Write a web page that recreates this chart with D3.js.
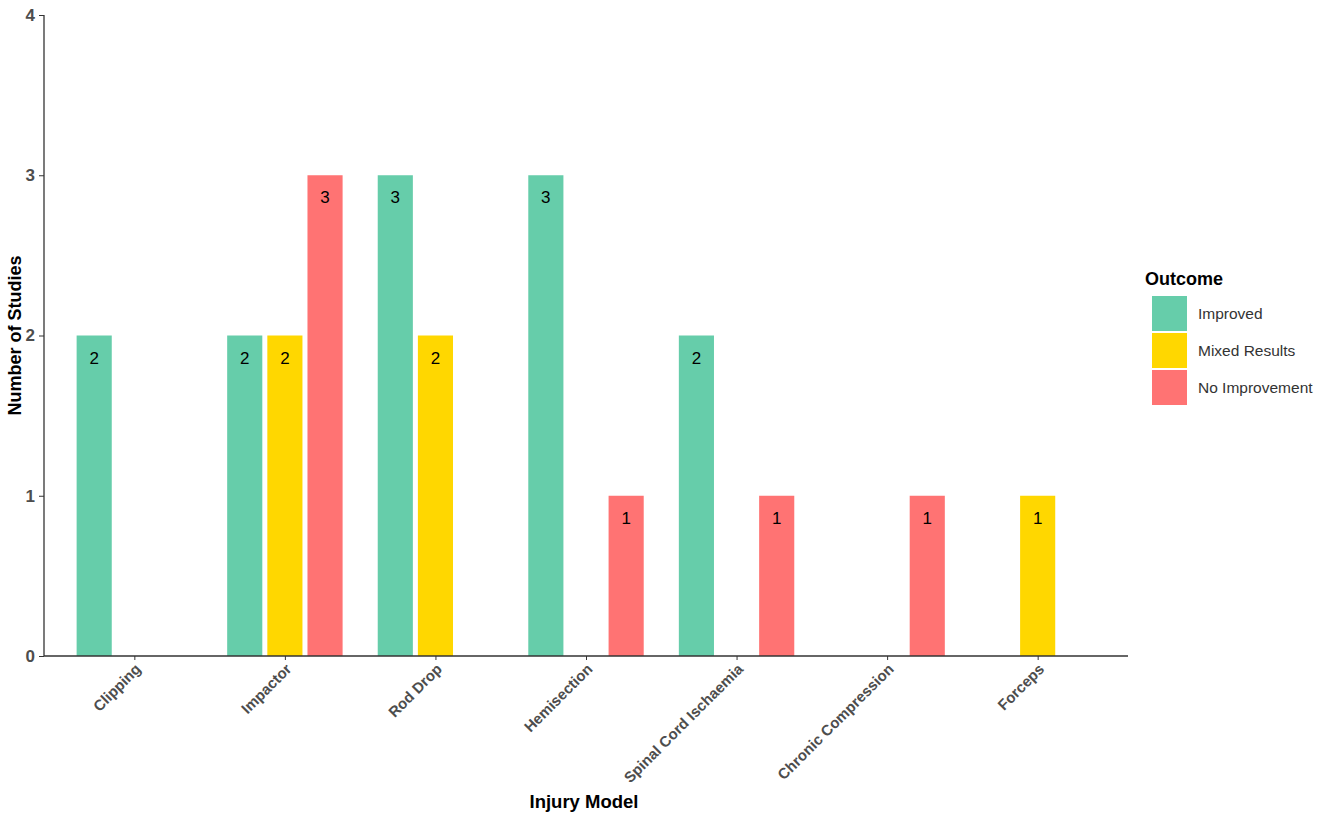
<!DOCTYPE html>
<html>
<head>
    <meta charset="UTF-8">
    <title>Number of Studies by Injury Model</title>
    <script src="https://cdnjs.cloudflare.com/ajax/libs/d3/7.8.5/d3.min.js"></script>
    <style>
        body {
            margin: 0;
            background: #fff;
            font-family: "Liberation Sans", Arial, sans-serif;
        }
        .axis path, .axis line { stroke: #333; }
        .axis text { font-weight: bold; fill: #4d4d4d; }
        .title { font-weight: bold; fill: #000; font-size: 18px; }
        .bar-label { font-size: 17px; fill: #000; }
        .legend text { font-size: 15.5px; fill: #333; }
    </style>
</head>
<body>
    <div id="chart"></div>

    <script>
        const categories = ["Clipping", "Impactor", "Rod Drop", "Hemisection",
            "Spinal Cord Ischaemia", "Chronic Compression", "Forceps"];
        const outcomes = ["Improved", "Mixed Results", "No Improvement"];
        const improved = [2, 2, 3, 3, 2, 0, 0];
        const mixedResults = [0, 2, 2, 0, 0, 0, 1];
        const noImprovement = [0, 3, 0, 1, 1, 1, 0];
        const yTicks = [0, 1, 2, 3, 4];

        const colors = {
            "Improved": "#66CDAA",
            "Mixed Results": "#FFD700",
            "No Improvement": "#FF7373"
        };

        const seriesValues = [improved, mixedResults, noImprovement];
        const rows = [];
        categories.forEach((c, i) => {
            outcomes.forEach((o, j) => {
                if (seriesValues[j][i] > 0) rows.push({ category: c, outcome: o, value: seriesValues[j][i] });
            });
        });

        const width = 1325, height = 822;
        const plot = { left: 44, right: 1128, top: 15, bottom: 656 };

        const svg = d3.select("#chart")
            .append("svg")
            .attr("width", width)
            .attr("height", height);

        const x = d3.scalePoint()
            .domain(categories)
            .range([plot.left, plot.right])
            .padding(0.6);

        const step = x.step();
        const xInner = d3.scaleBand()
            .domain(outcomes)
            .range([-0.4 * step, 0.4 * step])
            .paddingInner(0.125)
            .paddingOuter(0.0625);

        const y = d3.scaleLinear()
            .domain([0, 4])
            .range([plot.bottom, plot.top]);

        // bars
        svg.selectAll("rect.bar")
            .data(rows)
            .join("rect")
            .attr("class", "bar")
            .attr("x", d => x(d.category) + xInner(d.outcome))
            .attr("width", xInner.bandwidth())
            .attr("y", d => y(d.value))
            .attr("height", d => y(0) - y(d.value))
            .attr("fill", d => colors[d.outcome]);

        svg.selectAll("text.bar-label")
            .data(rows)
            .join("text")
            .attr("class", "bar-label")
            .attr("x", d => x(d.category) + xInner(d.outcome) + xInner.bandwidth() / 2)
            .attr("y", d => y(d.value) + 28)
            .attr("text-anchor", "middle")
            .text(d => d.value);

        // axes
        const yAxis = svg.append("g")
            .attr("class", "axis")
            .attr("transform", `translate(${plot.left},0)`)
            .call(d3.axisLeft(y).tickValues(yTicks).tickSize(5).tickPadding(4).tickFormat(d3.format("d")));
        yAxis.select(".domain").attr("d", `M0,${plot.top}V${plot.bottom}`).attr("stroke-width", 1.3);
        yAxis.selectAll("text").style("font-size", "17px");

        const xAxis = svg.append("g")
            .attr("class", "axis")
            .attr("transform", `translate(0,${plot.bottom})`)
            .call(d3.axisBottom(x).tickSize(4));
        xAxis.select(".domain").attr("d", `M${plot.left},0H${plot.right}`).attr("stroke-width", 1.3);
        xAxis.selectAll("text")
            .style("font-size", "15px")
            .attr("text-anchor", "end")
            .attr("x", 0)
            .attr("y", 0)
            .attr("dy", 0)
            .attr("transform", "translate(7,14) rotate(-45)");

        // axis titles
        svg.append("text")
            .attr("class", "title")
            .attr("x", 584)
            .attr("y", 808)
            .attr("text-anchor", "middle")
            .style("font-size", "18.5px")
            .text("Injury Model");

        svg.append("text")
            .attr("class", "title")
            .attr("transform", `translate(21,${(plot.top + plot.bottom) / 2}) rotate(-90)`)
            .attr("text-anchor", "middle")
            .text("Number of Studies");

        // legend
        const legend = svg.append("g")
            .attr("class", "legend")
            .attr("transform", "translate(1145,285)");

        legend.append("text")
            .attr("class", "title")
            .attr("x", 0)
            .attr("y", 0)
            .style("font-size", "18px")
            .style("fill", "#000")
            .text("Outcome");

        const items = legend.selectAll("g.item")
            .data(outcomes)
            .join("g")
            .attr("class", "item")
            .attr("transform", (d, i) => `translate(7,${11 + i * 37})`);

        items.append("rect")
            .attr("width", 35)
            .attr("height", 35)
            .attr("fill", d => colors[d]);

        items.append("text")
            .attr("x", 46)
            .attr("y", 18)
            .attr("dy", "0.35em")
            .text(d => d);
    </script>
</body>
</html>
